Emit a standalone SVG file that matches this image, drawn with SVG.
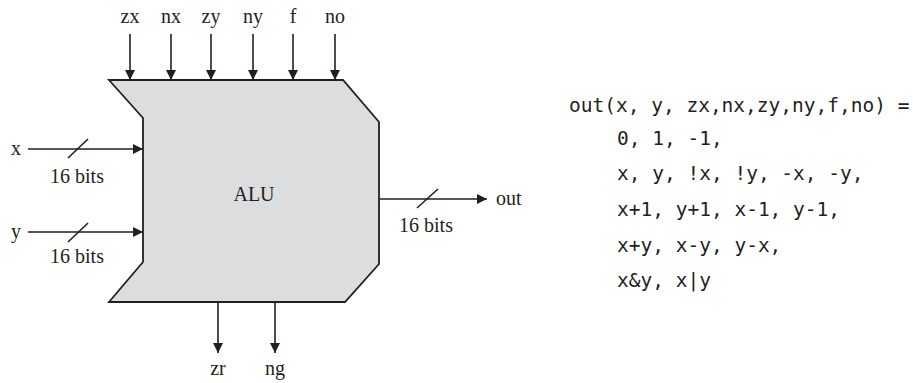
<svg xmlns="http://www.w3.org/2000/svg" width="913" height="383" viewBox="0 0 913 383">
<defs>
<marker id="ah" viewBox="0 0 10 10" refX="10" refY="5" markerWidth="10" markerHeight="10" markerUnits="userSpaceOnUse" orient="auto">
<path d="M0,0 L10,5 L0,10 z" fill="#231f20"/>
</marker>
</defs>
<style>
.lbl{font-family:"Liberation Serif","Times New Roman",serif;font-size:20px;fill:#231f20}
.code{font-family:"DejaVu Sans Mono","Liberation Mono",monospace;font-size:19.5px;fill:#231f20}
.w{stroke:#231f20;stroke-width:1.6;fill:none}
</style>
<rect width="913" height="383" fill="#ffffff"/>
<g id="alu">
<polygon points="109,80 343,80 379,122 379,264 345,302 109,302 143,262 143,118" fill="#dcdddf" stroke="#231f20" stroke-width="1.8" stroke-linejoin="miter"/>
<text class="lbl" x="254" y="201" text-anchor="middle">ALU</text>
</g>
<g id="connectors">
<line class="w" x1="130" y1="34" x2="130" y2="80" marker-end="url(#ah)"/>
<line class="w" x1="171" y1="34" x2="171" y2="80" marker-end="url(#ah)"/>
<line class="w" x1="211" y1="34" x2="211" y2="80" marker-end="url(#ah)"/>
<line class="w" x1="253" y1="34" x2="253" y2="80" marker-end="url(#ah)"/>
<line class="w" x1="293" y1="34" x2="293" y2="80" marker-end="url(#ah)"/>
<line class="w" x1="335" y1="34" x2="335" y2="80" marker-end="url(#ah)"/>
<line class="w" x1="28" y1="149" x2="143" y2="149" marker-end="url(#ah)"/>
<line class="w" x1="68" y1="158" x2="88" y2="139"/>
<line class="w" x1="28" y1="232" x2="143" y2="232" marker-end="url(#ah)"/>
<line class="w" x1="68" y1="242" x2="88" y2="223"/>
<line class="w" x1="379" y1="199" x2="487" y2="199" marker-end="url(#ah)"/>
<line class="w" x1="417" y1="208" x2="438" y2="189"/>
<line class="w" x1="218" y1="302" x2="218" y2="353" marker-end="url(#ah)"/>
<line class="w" x1="275" y1="302" x2="275" y2="353" marker-end="url(#ah)"/>
</g>
<g id="labels">
<text class="lbl" x="130" y="23" text-anchor="middle">zx</text>
<text class="lbl" x="171" y="23" text-anchor="middle">nx</text>
<text class="lbl" x="211" y="23" text-anchor="middle">zy</text>
<text class="lbl" x="253" y="23" text-anchor="middle">ny</text>
<text class="lbl" x="293" y="23" text-anchor="middle">f</text>
<text class="lbl" x="335" y="23" text-anchor="middle">no</text>
<text class="lbl" x="16" y="155" text-anchor="middle">x</text>
<text class="lbl" x="77" y="183" text-anchor="middle">16 bits</text>
<text class="lbl" x="16" y="238" text-anchor="middle">y</text>
<text class="lbl" x="77" y="263" text-anchor="middle">16 bits</text>
<text class="lbl" x="496" y="205">out</text>
<text class="lbl" x="426" y="232" text-anchor="middle">16 bits</text>
<text class="lbl" x="218" y="375" text-anchor="middle">zr</text>
<text class="lbl" x="275" y="375" text-anchor="middle">ng</text>
</g>
<g id="code">
<text class="code" x="569" y="112">out(x, y, zx,nx,zy,ny,f,no) =</text>
<text class="code" x="617" y="145">0, 1, -1,</text>
<text class="code" x="617" y="180">x, y, !x, !y, -x, -y,</text>
<text class="code" x="617" y="216">x+1, y+1, x-1, y-1,</text>
<text class="code" x="617" y="252">x+y, x-y, y-x,</text>
<text class="code" x="617" y="287">x&amp;y, x|y</text>
</g>
</svg>
